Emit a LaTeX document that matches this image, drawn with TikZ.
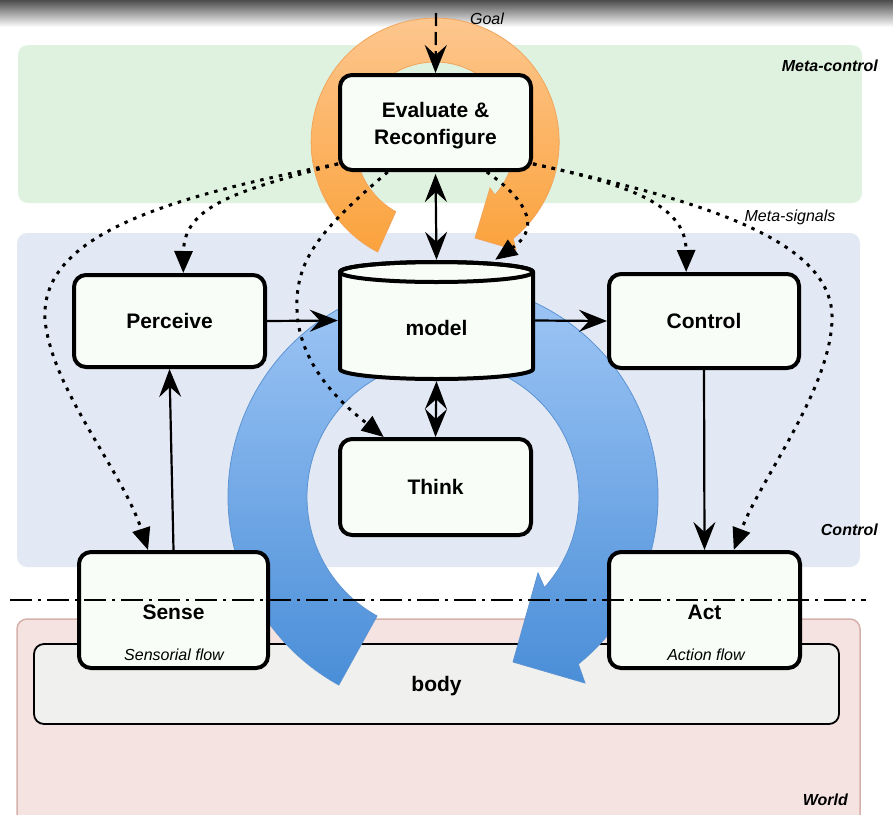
\documentclass[tikz,border=0pt]{standalone}
\usepackage{fontspec}
\setmainfont{Liberation Sans}
\usetikzlibrary{arrows.meta,calc}
\definecolor{metagreen}{HTML}{DFF2DF}
\definecolor{ctrlblue}{HTML}{E3E9F4}
\definecolor{worldpink}{HTML}{F5E3E1}
\definecolor{worldedge}{HTML}{D6B1AB}
\definecolor{bodygray}{HTML}{F0F0EE}
\definecolor{nodefill}{HTML}{F8FDF8}
\definecolor{orangetop}{HTML}{FDC994}
\definecolor{orangebot}{HTML}{FBA23C}
\definecolor{orangeedge}{HTML}{F2A55A}
\definecolor{bluetop}{HTML}{A6CBF8}
\definecolor{bluebot}{HTML}{4A8ED8}
\definecolor{blueedge}{HTML}{5C93D2}
\tikzset{
  box/.style={draw, line width=4pt, rounded corners=12pt, fill=nodefill,
    font=\fontsize{21}{27}\selectfont\bfseries, align=center, inner sep=0pt},
  bodybox/.style={draw, line width=1.8pt, rounded corners=10pt, fill=bodygray,
    font=\fontsize{21}{26}\selectfont\bfseries, inner sep=0pt},
  lab/.style={font=\fontsize{16}{19}\selectfont\itshape, inner sep=0pt},
  blab/.style={font=\fontsize{16}{19}\selectfont\bfseries\itshape, inner sep=0pt},
  btext/.style={font=\fontsize{21}{26}\selectfont\bfseries, inner sep=0pt},
  stip/.tip={Stealth[length=28pt,width=22pt,inset=10pt]},
  sarrow/.style={line width=2.2pt, -stip},
  dsarrow/.style={line width=2.2pt, stip-stip},
  dotarrow/.style={line width=3pt, dash pattern=on 3.5pt off 6pt,
    -{Triangle[length=22pt,width=18pt]}},
  goalarrow/.style={line width=2.2pt, dash pattern=on 13pt off 6pt, -stip},
  cyl/.style={line width=4pt, line join=round, fill=nodefill},
}
\begin{document}
\begin{tikzpicture}[x=1pt,y=-1pt]
\useasboundingbox (0,0) rectangle (893,814);
\fill[white] (0,0) rectangle (893,814);
\shade[top color=black!70,bottom color=white] (0,0) rectangle (893,27);
% layers
\fill[metagreen, rounded corners=10pt] (18,45) rectangle (862,203);
\fill[ctrlblue, rounded corners=10pt] (17,233) rectangle (860,567);
\filldraw[fill=worldpink, draw=worldedge, line width=1.5pt, rounded corners=10pt] (17,619) rectangle (860,840);
\node[bodybox, minimum width=805, minimum height=80] (body) at (436.5,684) {\rule{0pt}{19pt}body};
% orange ring arrow
\shade[top color=orangetop, bottom color=orangebot, draw=orangeedge, line width=0.8pt]
  (377.7,252) arc[start angle=117.6, end angle=411, radius=124]
  -- (516,250) -- (475,238) -- (490,188) -- (494.9,195)
  arc[start angle=401.5, end angle=119.4, radius=80] -- cycle;
% blue ring arrow
\shade[top color=bluetop, bottom color=bluebot, draw=blueedge, line width=0.8pt]
  (338.8,685) arc[start angle=119, end angle=411, radius=215]
  -- (585,683) -- (513,662) -- (538,573) -- (544.5,587.5)
  arc[start angle=401.7, end angle=119, radius=136] -- cycle;
% nodes
\node[box, minimum width=191, minimum height=95] (eval) at (435.5,122.5) {\rule{0pt}{21.5pt}Evaluate \&\\Reconfigure};
\node[box, minimum width=191, minimum height=92] (perceive) at (169.5,321) {Perceive};
\node[box, minimum width=190, minimum height=94] (control) at (704,321) {Control};
\node[box, minimum width=191, minimum height=96] (think) at (435.5,487) {Think};
\node[box, minimum width=189, minimum height=116] (sense) at (173.5,610) {\rule{0pt}{19pt}Sense};
\node[box, minimum width=191, minimum height=116] (act) at (704.5,610) {\rule{0pt}{19pt}Act};
\node[lab] (sflow) at (174,655) {Sensorial flow};
\node[lab] (aflow) at (706,655) {Action flow};
% model cylinder
\path[cyl, draw] (340,272) -- (340,369) arc[start angle=180, end angle=0, x radius=96.5, y radius=10]
  -- (533,272) arc[start angle=0, end angle=-180, x radius=96.5, y radius=10] -- cycle;
\draw[line width=4pt] (436.5,272) ellipse[x radius=96.5, y radius=10];
\node[inner sep=0pt, minimum width=197, minimum height=121] (model) at (436.5,320.5) {};
\node[btext] (modeltext) at (436.5,328) {model};
% labels
\node[blab, anchor=east] (metalab) at (878,66) {Meta-control};
\node[blab, anchor=east] (ctrllab) at (878,530) {Control};
\node[blab, anchor=east] (worldlab) at (848,800) {World};
\node[lab] (metasig) at (790,217) {Meta-signals};
\node[lab] (goallab) at (487,19) {Goal};
\coordinate (goal) at (436,13);
% solid connectors
\draw[goalarrow] (goal) -- (eval.north);
\draw[dsarrow, shorten <=2pt] (eval.south) -- (model.north);
\draw[sarrow] (perceive.east) -- (model.west);
\draw[sarrow] (model.east) -- (control.west);
\draw[dsarrow] (model.south) -- (think.north);
\draw[sarrow] (sense.north) -- (perceive.south);
\draw[sarrow] (control.south) -- (act.north);
% dotted meta-signals
\draw[dotarrow] (eval.203) .. controls (240,190) and (184,205) .. (perceive.74);
\draw[dotarrow] (eval.203) .. controls (150,200) and (40,240) .. (45,320)
  .. controls (52,390) and (122,470) .. (sense.113);
\draw[dotarrow] (eval.226) .. controls (320,230) and (295,260) .. (297,310)
  .. controls (299,370) and (350,410) .. (think.136);
\draw[dotarrow] (eval.-23) .. controls (630,185) and (686,205) .. (control.110);
\draw[dotarrow] (eval.-23) .. controls (700,200) and (835,240) .. (832,320)
  .. controls (830,390) and (760,480) .. (act.64);
\draw[dotarrow] (eval.-44) .. controls (520,195) and (545,225) .. (model.46);
% world / control boundary
\draw[line width=2pt, dash pattern=on 22pt off 6pt on 3pt off 6pt] (10,600) -- (866,600);
\end{tikzpicture}
\end{document}
